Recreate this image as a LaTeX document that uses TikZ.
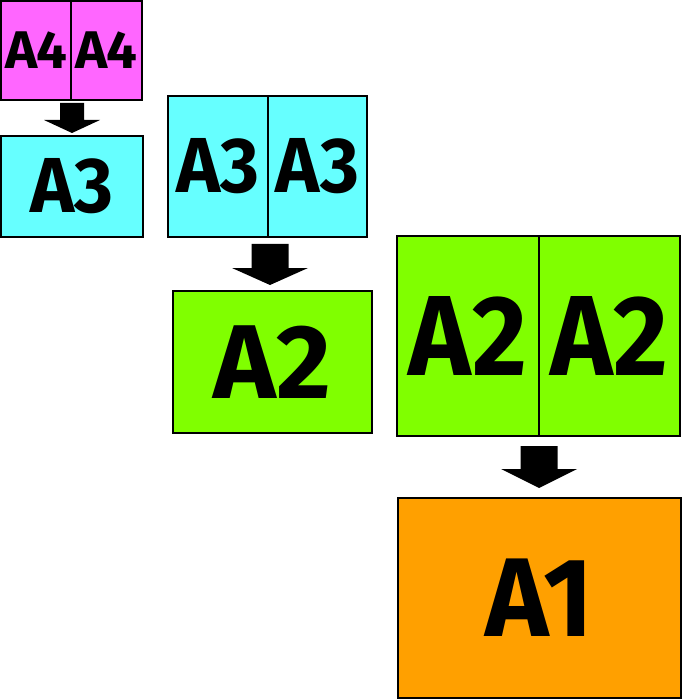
\documentclass[tikz,border=0pt]{standalone}
\usepackage{fontspec}
\setmainfont{Fira Sans}
\definecolor{pa4}{HTML}{FF66FF}
\definecolor{pa3}{HTML}{66FFFF}
\definecolor{pa2}{HTML}{80FF00}
\definecolor{pa1}{HTML}{FFA000}
\newcommand\lbl[3]{\scalebox{#1}[1]{\fontsize{#2}{#2}\selectfont\bfseries #3}}
% fat arrow: centre x, top y, head y, tip y, shaft half width, head half width
\newcommand\fatarrow[6]{%
  \fill[black] (#1-#5,#2) -- (#1+#5,#2) -- (#1+#5,#3) -- (#1+#6,#3) -- (#1,#4)
    -- (#1-#6,#3) -- (#1-#5,#3) -- cycle;}
\begin{document}
\begin{tikzpicture}[x=1pt,y=-1pt,
  half/.style={rectangle,inner sep=0pt,outer sep=0pt},
  outline/.style={draw=black,line width=2pt},
  divider/.style={draw=black,line width=1.3pt}]
\useasboundingbox (0,0) rectangle (682,700);
% A4 pair
\node[half,fill=pa4,minimum width=70pt,minimum height=99pt] (a4l) at (36,50.5) {\lbl{1.03}{53}{A4}};
\node[half,fill=pa4,minimum width=71pt,minimum height=99pt] (a4r) at (106.5,50.5) {\lbl{1.03}{53}{A4}};
\draw[outline] (a4l.north west) rectangle (a4r.south east);
\draw[divider] (a4l.north east) -- (a4l.south east);
% A3 single
\node[half,fill=pa3,minimum width=142pt,minimum height=101pt] (a3s) at (72,186.5) {\lbl{0.96}{78}{A3}};
\draw[outline] (a3s.north west) rectangle (a3s.south east);
% A3 pair
\node[half,fill=pa3,minimum width=100pt,minimum height=141pt] (a3l) at (218,166.5) {\lbl{0.96}{78}{A3}};
\node[half,fill=pa3,minimum width=99pt,minimum height=141pt] (a3r) at (317.5,166.5) {\lbl{0.96}{78}{A3}};
\draw[outline] (a3l.north west) rectangle (a3r.south east);
\draw[divider] (a3l.north east) -- (a3l.south east);
% A2 single
\node[half,fill=pa2,minimum width=199pt,minimum height=142pt] (a2s) at (272.5,362) {\lbl{1.01}{105}{A2}};
\draw[outline] (a2s.north west) rectangle (a2s.south east);
% A2 pair
\node[half,fill=pa2,minimum width=142pt,minimum height=200pt] (a2l) at (468,336) {\lbl{0.93}{114}{A2}};
\node[half,fill=pa2,minimum width=141pt,minimum height=200pt] (a2r) at (609.5,336) {\lbl{0.93}{114}{A2}};
\draw[outline] (a2l.north west) rectangle (a2r.south east);
\draw[divider] (a2l.north east) -- (a2l.south east);
% A1
\node[half,fill=pa1,minimum width=283pt,minimum height=200pt] (a1) at (539.5,598) {\lbl{0.96}{112}{A1}};
\draw[outline] (a1.north west) rectangle (a1.south east);
% arrows
\fatarrow{72}{103}{120}{133}{12}{28}
\fatarrow{270}{244}{268}{285}{18.5}{38}
\fatarrow{539}{446}{469}{488}{18.5}{38}
\end{tikzpicture}
\end{document}
